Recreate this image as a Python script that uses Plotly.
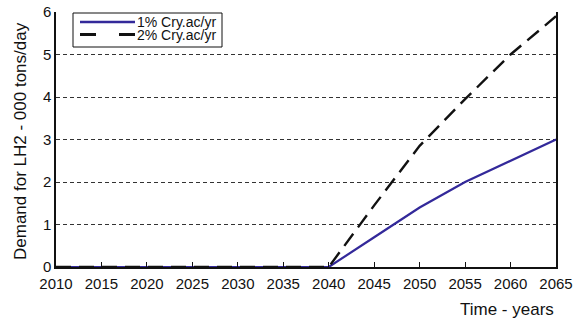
import plotly.graph_objects as go

years = [2010, 2015, 2020, 2025, 2030, 2035, 2040, 2045, 2050, 2055, 2060, 2065]
demand_1pct = [0, 0, 0, 0, 0, 0, 0, 0.7, 1.4, 2.0, 2.5, 3.0]
demand_2pct = [0, 0, 0, 0, 0, 0, 0, 1.45, 2.85, 3.95, 5.0, 5.9]
series_names = ["1% Cry.ac/yr", "2% Cry.ac/yr"]
x_ticks = [2010, 2015, 2020, 2025, 2030, 2035, 2040, 2045, 2050, 2055, 2060, 2065]
y_ticks = [0, 1, 2, 3, 4, 5, 6]

W, H = 581, 323
L, R, T, B = 56, 25, 12, 56
pw, ph = W - L - R, H - T - B

def px_x(p):
    return (p - L) / pw

def px_y(p):
    return (H - B - p) / ph

BLUE = "#33299a"
BLACK = "#111111"

fig = go.Figure()
fig.add_trace(go.Scatter(x=years, y=demand_1pct, mode="lines", name=series_names[0],
                         line=dict(color=BLUE, width=2.2), showlegend=False))
fig.add_trace(go.Scatter(x=years, y=demand_2pct, mode="lines", name=series_names[1],
                         line=dict(color=BLACK, width=2.4, dash="15px,8px"), showlegend=False))

font = "Liberation Sans, Arial, sans-serif"

shapes = [
    # legend box
    dict(type="rect", xref="paper", yref="paper",
         x0=px_x(73), x1=px_x(222), y0=px_y(47), y1=px_y(13),
         line=dict(color=BLACK, width=1), fillcolor="white", layer="above"),
    dict(type="line", xref="paper", yref="paper",
         x0=px_x(80), x1=px_x(135), y0=px_y(22), y1=px_y(22),
         line=dict(color=BLUE, width=2.4), layer="above"),
    dict(type="line", xref="paper", yref="paper",
         x0=px_x(80), x1=px_x(135), y0=px_y(34.5), y1=px_y(34.5),
         line=dict(color=BLACK, width=2.8, dash="16px,23px"), layer="above"),
]

annotations = [
    dict(text=series_names[0], x=px_x(135), xref="paper", xanchor="left",
         y=px_y(22), yref="paper", yanchor="middle", showarrow=False,
         font=dict(size=14, family=font, color=BLACK)),
    dict(text=series_names[1], x=px_x(135), xref="paper", xanchor="left",
         y=px_y(34.5), yref="paper", yanchor="middle", showarrow=False,
         font=dict(size=14, family=font, color=BLACK)),
    dict(text="Time - years", x=px_x(556), xref="paper", xanchor="right",
         y=px_y(309), yref="paper", yanchor="middle", showarrow=False,
         font=dict(size=17, family=font, color=BLACK)),
    dict(text="Demand for LH2 - 000 tons/day", x=px_x(20), xref="paper", xanchor="center",
         y=px_y(141), yref="paper", yanchor="middle", textangle=-90, showarrow=False,
         font=dict(size=17, family=font, color=BLACK)),
]

fig.update_layout(
    width=W, height=H,
    margin=dict(l=L, r=R, t=T, b=B, autoexpand=False),
    paper_bgcolor="white", plot_bgcolor="white",
    font=dict(family=font, size=15, color=BLACK),
    showlegend=False,
    xaxis=dict(range=[2010, 2065], tickvals=x_ticks, ticks="inside", ticklen=5,
               tickcolor=BLACK, showgrid=False, zeroline=False,
               showline=True, linecolor=BLACK, linewidth=2, mirror=False,
               ticklabelstandoff=2,
               tickfont=dict(size=15, color=BLACK)),
    yaxis=dict(range=[0, 6], tickvals=y_ticks, ticks="", showgrid=True,
               gridcolor="#333", griddash="4px,3px", gridwidth=1, zeroline=False,
               showline=True, linecolor=BLACK, linewidth=1.5, mirror=True,
               tickfont=dict(size=15, color=BLACK)),
    shapes=shapes,
    annotations=annotations,
)
fig.write_html("out.html", config={"displayModeBar": False},
               post_script="document.body.style.margin='0';document.body.style.overflow='hidden';")
